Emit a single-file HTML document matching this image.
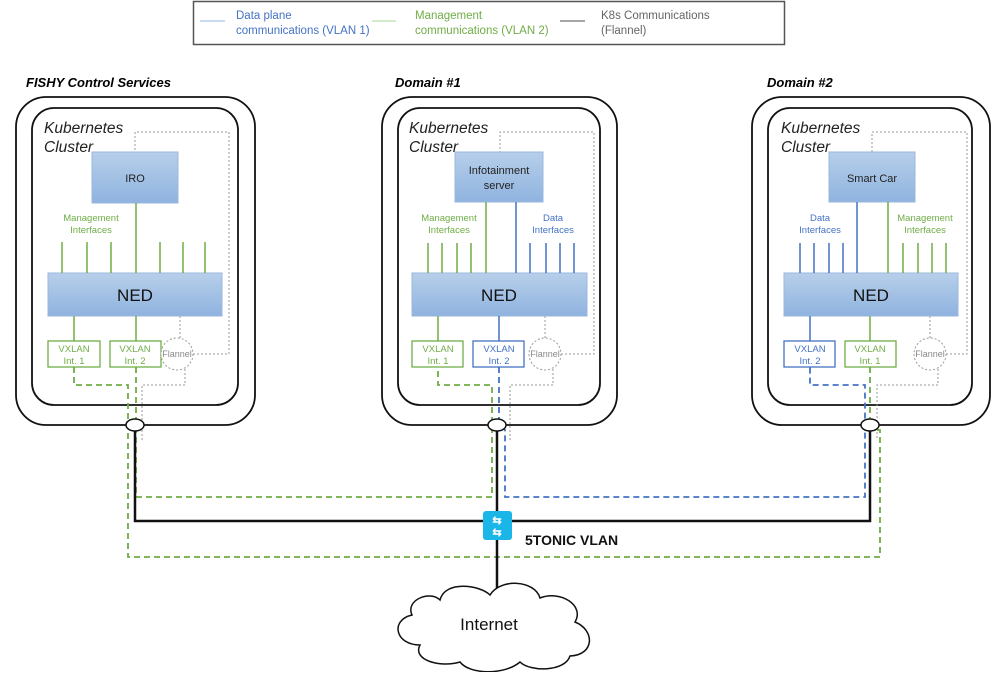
<!DOCTYPE html>
<html><head><meta charset="utf-8"><style>
body{margin:0;background:#fff;width:992px;height:672px;overflow:hidden}
svg text{font-family:"Liberation Sans",sans-serif}
</style></head><body>
<svg width="992" height="672" viewBox="0 0 992 672" xmlns="http://www.w3.org/2000/svg">
<defs>
<linearGradient id="g" x1="0" y1="0" x2="0" y2="1"><stop offset="0" stop-color="#b7cfea"/><stop offset="1" stop-color="#8fb3df"/></linearGradient>
</defs>
<rect x="193.5" y="1.5" width="591" height="43" fill="#fff" stroke="#555" stroke-width="1.5"/>
<line x1="200" y1="21" x2="225" y2="21" stroke="#b8cff0" stroke-width="1.5"/>
<line x1="372" y1="21" x2="396" y2="21" stroke="#c5e3b5" stroke-width="1.5"/>
<line x1="560" y1="21" x2="585" y2="21" stroke="#888" stroke-width="1.5"/>
<g font-size="11.5">
<text x="236" y="19" fill="#4472c4">Data plane</text>
<text x="236" y="34" fill="#4472c4">communications  (VLAN 1)</text>
<text x="415" y="19" fill="#70ad47">Management</text>
<text x="415" y="34" fill="#70ad47">communications (VLAN 2)</text>
<text x="601" y="19" fill="#666">K8s Communications</text>
<text x="601" y="34" fill="#666">(Flannel)</text>
</g>
<g font-size="13" font-weight="bold" font-style="italic">
<text x="26" y="87">FISHY Control Services</text>
<text x="395" y="87">Domain #1</text>
<text x="767" y="87">Domain #2</text>
</g>
<g fill="none" stroke="#111" stroke-width="1.8">
<rect x="16" y="97" width="239" height="328" rx="30"/>
<rect x="32" y="108" width="206" height="297" rx="22"/>
<rect x="382" y="97" width="235" height="328" rx="30"/>
<rect x="398" y="108" width="202" height="297" rx="22"/>
<rect x="752" y="97" width="238" height="328" rx="30"/>
<rect x="768" y="108" width="204" height="297" rx="22"/>
</g>
<g font-size="15.5" font-style="italic" fill="#222">
<text x="44" y="133">Kubernetes</text><text x="44" y="152">Cluster</text>
<text x="409" y="133">Kubernetes</text><text x="409" y="152">Cluster</text>
<text x="781" y="133">Kubernetes</text><text x="781" y="152">Cluster</text>
</g>
<g fill="none" stroke="#999" stroke-width="1" stroke-dasharray="2,2">
<polyline points="193,354 229,354 229,132 135,132 135,152"/>
<polyline points="180,316 180,338"/>
<polyline points="185,369 185,385 142,385 142,430 142,440"/>
<polyline points="561,354 594,354 594,132 500,132 500,152"/>
<polyline points="545,316 545,338"/>
<polyline points="553,369 553,385 510,385 510,440"/>
<polyline points="946,354 967,354 967,132 872,132 872,152"/>
<polyline points="930,316 930,338"/>
<polyline points="938,369 938,385 877,385 877,440"/>
</g>
<g stroke="#9bb7dc" stroke-width="1" fill="url(#g)">
<rect x="92" y="152" width="86" height="51"/>
<rect x="455" y="152" width="88" height="50"/>
<rect x="829" y="152" width="86" height="50"/>
<rect x="48" y="273" width="174" height="43"/>
<rect x="412" y="273" width="175" height="43"/>
<rect x="784" y="273" width="174" height="43"/>
</g>
<g font-size="11" fill="#222" text-anchor="middle">
<text x="135" y="182">IRO</text>
<text x="499" y="174">Infotainment</text><text x="499" y="189">server</text>
<text x="872" y="182">Smart Car</text>
</g>
<g font-size="17" fill="#111" text-anchor="middle">
<text x="135" y="301">NED</text><text x="499" y="301">NED</text><text x="871" y="301">NED</text>
</g>
<g stroke="#70ad47" stroke-width="1.5">
<path d="M62 242V273M87 242V273M111 242V273M160 242V273M183 242V273M205 242V273M136 203V273"/>
<path d="M428 243V273M442 243V273M457 243V273M471 243V273M486 202V273"/>
<path d="M903 243V273M918 243V273M932 243V273M946 243V273M888 202V273"/>
<path d="M74 316V341M136 316V341M438 316V341M870 316V341"/>
</g>
<g stroke="#4472c4" stroke-width="1.5">
<path d="M530 243V273M546 243V273M560 243V273M574 243V273M516 202V273"/>
<path d="M800 243V273M814 243V273M829 243V273M843 243V273M857 202V273"/>
<path d="M499 316V341M810 316V341"/>
</g>
<g font-size="9.5" text-anchor="middle">
<text x="91" y="221" fill="#70ad47">Management</text><text x="91" y="233" fill="#70ad47">Interfaces</text>
<text x="449" y="221" fill="#70ad47">Management</text><text x="449" y="233" fill="#70ad47">Interfaces</text>
<text x="553" y="221" fill="#4472c4">Data</text><text x="553" y="233" fill="#4472c4">Interfaces</text>
<text x="820" y="221" fill="#4472c4">Data</text><text x="820" y="233" fill="#4472c4">Interfaces</text>
<text x="925" y="221" fill="#70ad47">Management</text><text x="925" y="233" fill="#70ad47">Interfaces</text>
</g>
<g fill="#fff" stroke-width="1.3">
<rect x="48" y="341" width="52" height="26" stroke="#70ad47"/>
<rect x="110" y="341" width="51" height="26" stroke="#70ad47"/>
<rect x="412" y="341" width="51" height="26" stroke="#70ad47"/>
<rect x="473" y="341" width="51" height="26" stroke="#4472c4"/>
<rect x="784" y="341" width="51" height="26" stroke="#4472c4"/>
<rect x="845" y="341" width="51" height="26" stroke="#70ad47"/>
</g>
<g font-size="9.5" text-anchor="middle">
<text x="74" y="352" fill="#70ad47">VXLAN</text><text x="74" y="364" fill="#70ad47">Int. 1</text>
<text x="135" y="352" fill="#70ad47">VXLAN</text><text x="135" y="364" fill="#70ad47">Int. 2</text>
<text x="438" y="352" fill="#70ad47">VXLAN</text><text x="438" y="364" fill="#70ad47">Int. 1</text>
<text x="499" y="352" fill="#4472c4">VXLAN</text><text x="499" y="364" fill="#4472c4">Int. 2</text>
<text x="810" y="352" fill="#4472c4">VXLAN</text><text x="810" y="364" fill="#4472c4">Int. 2</text>
<text x="870" y="352" fill="#70ad47">VXLAN</text><text x="870" y="364" fill="#70ad47">Int. 1</text>
</g>
<g fill="#fff" stroke="#999" stroke-dasharray="2,2">
<circle cx="177" cy="354" r="16"/><circle cx="545" cy="354" r="16"/><circle cx="930" cy="354" r="16"/>
</g>
<g font-size="9" fill="#888" text-anchor="middle">
<text x="177" y="357">Flannel</text><text x="545" y="357">Flannel</text><text x="930" y="357">Flannel</text>
</g>
<g fill="none" stroke-width="1.8" stroke-dasharray="6,4">
<polyline stroke="#70ad47" points="74,367 74,385 128,385 128,557 880,557 880,430 870,430 870,367"/>
<polyline stroke="#70ad47" points="136,367 136,497 492,497 492,385 438,385 438,367"/>
<polyline stroke="#4472c4" points="499,367 499,420 505,430 505,497 865,497 865,385 810,385 810,367"/>
</g>
<g fill="none" stroke="#111" stroke-width="2.5">
<polyline points="135,430 135,521 870,521 870,430"/>
<line x1="497" y1="430" x2="497" y2="592"/>
</g>
<g fill="#fff" stroke="#111" stroke-width="1.5">
<ellipse cx="135" cy="425" rx="9" ry="6"/>
<ellipse cx="497" cy="425" rx="9" ry="6"/>
<ellipse cx="870" cy="425" rx="9" ry="6"/>
</g>
<rect x="483" y="511" width="29" height="29" rx="3" fill="#1ab6e8"/>
<g fill="#fff" font-size="11" font-weight="bold" text-anchor="middle"><text x="497" y="524">⇆</text><text x="497" y="536">⇆</text></g>
<text x="525" y="545" font-size="14" font-weight="bold" fill="#111">5TONIC VLAN</text>
<path d="M440 600 C445 580 480 585 490 595 C500 578 535 580 540 598 C560 590 585 605 575 622 C595 630 595 655 570 656 C565 672 530 672 520 662 C505 675 470 675 460 662 C440 668 412 660 420 645 C395 645 390 620 412 615 C405 600 430 590 440 600 Z" fill="#fff" stroke="#111" stroke-width="1.5"/>
<text x="489" y="630" font-size="17" text-anchor="middle" fill="#111">Internet</text>
</svg>
</body></html>
